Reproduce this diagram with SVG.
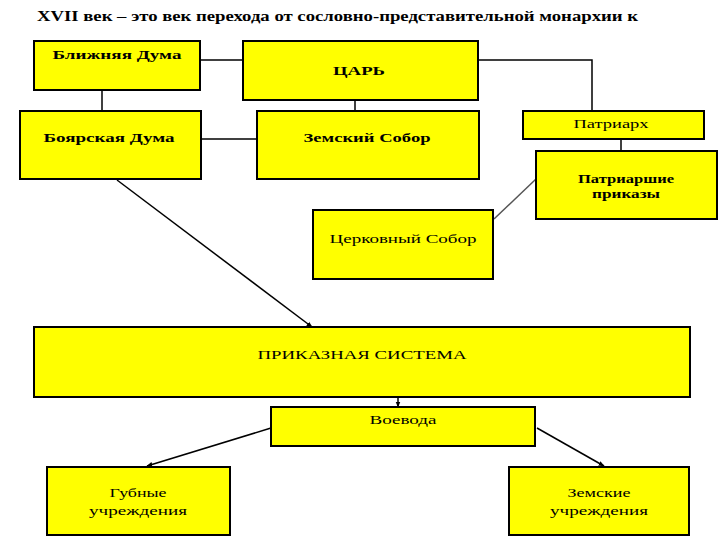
<svg xmlns="http://www.w3.org/2000/svg" width="720" height="540" viewBox="0 0 720 540">
<style>
.box{fill:#FFFF00;stroke:#000;stroke-width:2}
.t{font-family:"Liberation Serif","Times New Roman",serif;font-size:13px;fill:#000;text-anchor:middle}
.b{font-weight:bold}
.ln{stroke:#000;stroke-width:1.5;fill:none}
.ar{stroke:#000;stroke-width:1.5;fill:none;marker-end:url(#ah)}
</style>
<defs>
<marker id="ah" viewBox="0 0 10 10" refX="9" refY="5" markerWidth="6" markerHeight="6" orient="auto" markerUnits="userSpaceOnUse">
<path d="M0,1 L10,5 L0,9 z" fill="#000"/>
</marker>
</defs>
<rect width="720" height="540" fill="#fff"/>
<text x="37" y="21" class="t b" style="text-anchor:start;font-size:14px" textLength="601" lengthAdjust="spacingAndGlyphs">XVII век – это век перехода от сословно-представительной монархии к</text>
<g id="connectors">
<polyline class="ln" points="200,60 243,60"/>
<polyline class="ln" points="102,90 102,111"/>
<polyline class="ln" points="201,139 257,139"/>
<polyline class="ln" points="355,100 355,111"/>
<polyline class="ln" points="478,60 592,60 592,111"/>
<polyline class="ln" points="621,139 621,151"/>
<line x1="494" y1="219" x2="536" y2="179" stroke="#555" stroke-width="1.5"/>
<line class="ar" x1="117" y1="180" x2="312" y2="327"/>
<line class="ar" x1="398" y1="397" x2="398" y2="407"/>
<line class="ar" x1="271" y1="428" x2="147" y2="466"/>
<line class="ar" x1="537" y1="428" x2="604" y2="466"/>
</g>
<g id="blizhnyaya"><rect class="box" x="34" y="41" width="166" height="49"/><text class="t b" x="117" y="59" textLength="129" lengthAdjust="spacingAndGlyphs">Ближняя Дума</text></g>
<g id="tsar"><rect class="box" x="243" y="41" width="235" height="59"/><text class="t b" x="359" y="75" textLength="52" lengthAdjust="spacingAndGlyphs">ЦАРЬ</text></g>
<g id="boyarskaya"><rect class="box" x="20" y="111" width="181" height="68"/><text class="t b" x="109" y="142" textLength="131" lengthAdjust="spacingAndGlyphs">Боярская Дума</text></g>
<g id="zemsky-sobor"><rect class="box" x="257" y="111" width="222" height="68"/><text class="t b" x="367" y="142" textLength="127" lengthAdjust="spacingAndGlyphs">Земский Собор</text></g>
<g id="patriarkh"><rect class="box" x="523" y="111" width="181" height="28"/><text class="t" x="611" y="128" textLength="75" lengthAdjust="spacingAndGlyphs">Патриарх</text></g>
<g id="patriarshie"><rect class="box" x="536" y="151" width="181" height="68"/><text class="t b" x="626" y="183" textLength="96" lengthAdjust="spacingAndGlyphs">Патриаршие</text><text class="t b" x="626" y="198" textLength="68" lengthAdjust="spacingAndGlyphs">приказы</text></g>
<g id="tserkovny"><rect class="box" x="313" y="210" width="180" height="69"/><text class="t" x="403" y="243" textLength="147" lengthAdjust="spacingAndGlyphs">Церковный Собор</text></g>
<g id="prikaznaya"><rect class="box" x="34" y="327" width="656" height="70"/><text class="t" x="362" y="359" textLength="209" lengthAdjust="spacingAndGlyphs">ПРИКАЗНАЯ СИСТЕМА</text></g>
<g id="voevoda"><rect class="box" x="271" y="407" width="264" height="39"/><text class="t" x="403" y="424" textLength="67" lengthAdjust="spacingAndGlyphs">Воевода</text></g>
<g id="gubnye"><rect class="box" x="47" y="467" width="183" height="68"/><text class="t" x="138" y="497" textLength="57" lengthAdjust="spacingAndGlyphs">Губные</text><text class="t" x="138" y="515" textLength="98" lengthAdjust="spacingAndGlyphs">учреждения</text></g>
<g id="zemskie"><rect class="box" x="509" y="467" width="180" height="68"/><text class="t" x="599" y="497" textLength="63" lengthAdjust="spacingAndGlyphs">Земские</text><text class="t" x="599" y="515" textLength="98" lengthAdjust="spacingAndGlyphs">учреждения</text></g>
</svg>
